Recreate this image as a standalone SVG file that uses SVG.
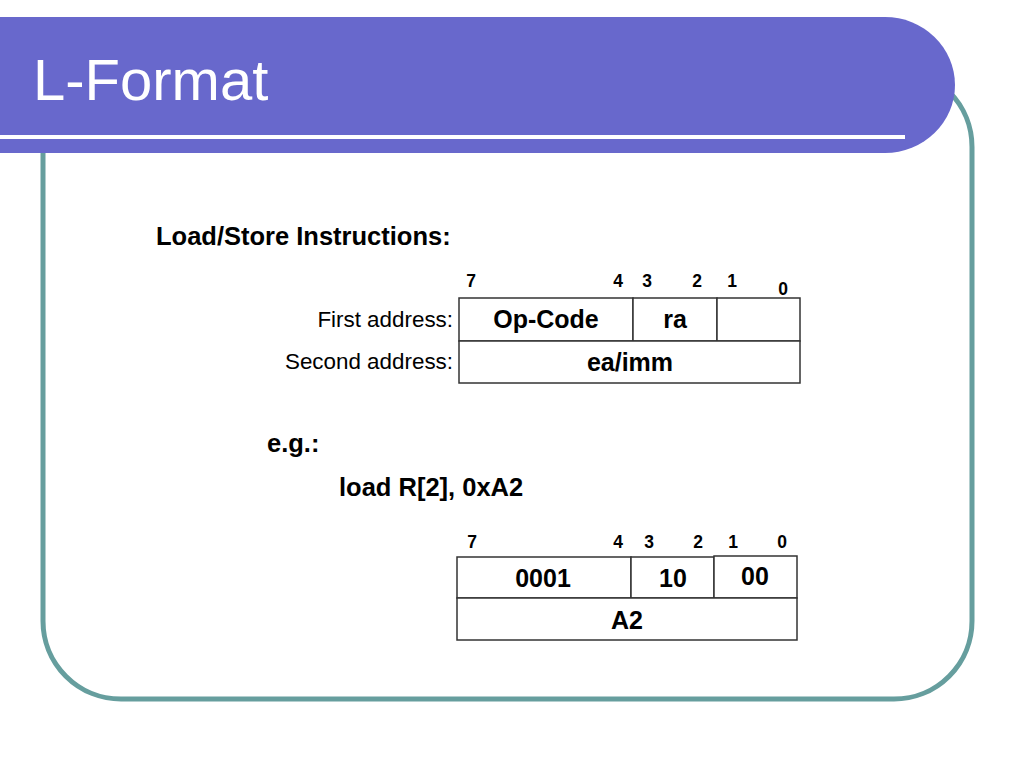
<svg xmlns="http://www.w3.org/2000/svg" width="1024" height="768" viewBox="0 0 1024 768">
<style>
.t{font-family:"Liberation Sans",Arial,sans-serif;fill:#000}
.b{font-weight:bold}
.reg{font-size:22.4px}
.lbl{font-size:25.5px;font-weight:bold}
.cell{font-size:25px;font-weight:bold;text-anchor:middle}
.bit{font-size:17.5px;font-weight:bold;text-anchor:middle}
.box{fill:#fff;stroke:#333;stroke-width:1.5}
</style>
<rect width="1024" height="768" fill="#fff"/>
<g id="frame">
<rect x="43" y="69" width="929" height="630" rx="78" ry="78" fill="none" stroke="#669E9E" stroke-width="5"/>
</g>
<g id="title-bar">
<path d="M0,17 H885 A70,68 0 0 1 885,153 H0 Z" fill="#6868CC"/>
<rect x="0" y="135" width="905" height="4" fill="#fff"/>
<text x="33" y="100" font-family="Liberation Sans,Arial,sans-serif" font-size="58" fill="#fff">L-Format</text>
</g>
<g id="heading">
<text class="t lbl" x="156" y="245">Load/Store Instructions:</text>
</g>
<g id="format">
<text class="t reg" x="453" y="327" text-anchor="end">First address:</text>
<text class="t reg" x="453" y="369" text-anchor="end">Second address:</text>
<text class="t bit" x="471" y="287">7</text>
<text class="t bit" x="618" y="287">4</text>
<text class="t bit" x="647" y="287">3</text>
<text class="t bit" x="697" y="287">2</text>
<text class="t bit" x="732" y="287">1</text>
<text class="t bit" x="783" y="295">0</text>
<rect class="box" x="459" y="298" width="174" height="43"/>
<rect class="box" x="633" y="298" width="84" height="43"/>
<rect class="box" x="717" y="298" width="83" height="43"/>
<rect class="box" x="459" y="341" width="341" height="42"/>
<text class="t cell" x="546" y="328">Op-Code</text>
<text class="t cell" x="675" y="328">ra</text>
<text class="t cell" x="630" y="371">ea/imm</text>
</g>
<g id="example">
<text class="t lbl" x="267" y="452">e.g.:</text>
<text class="t lbl" x="339" y="496">load R[2], 0xA2</text>
<text class="t bit" x="472" y="548">7</text>
<text class="t bit" x="618" y="548">4</text>
<text class="t bit" x="649" y="548">3</text>
<text class="t bit" x="698" y="548">2</text>
<text class="t bit" x="733" y="548">1</text>
<text class="t bit" x="782" y="548">0</text>
<rect class="box" x="457" y="557" width="174" height="41"/>
<rect class="box" x="631" y="557" width="83" height="41"/>
<rect class="box" x="714" y="556" width="83" height="42" stroke="#555"/>
<rect class="box" x="457" y="598" width="340" height="42"/>
<text class="t cell" x="543" y="587">0001</text>
<text class="t cell" x="673" y="587">10</text>
<text class="t cell" x="755" y="585">00</text>
<text class="t cell" x="627" y="629">A2</text>
</g>
<g id="connectors"/>
</svg>
